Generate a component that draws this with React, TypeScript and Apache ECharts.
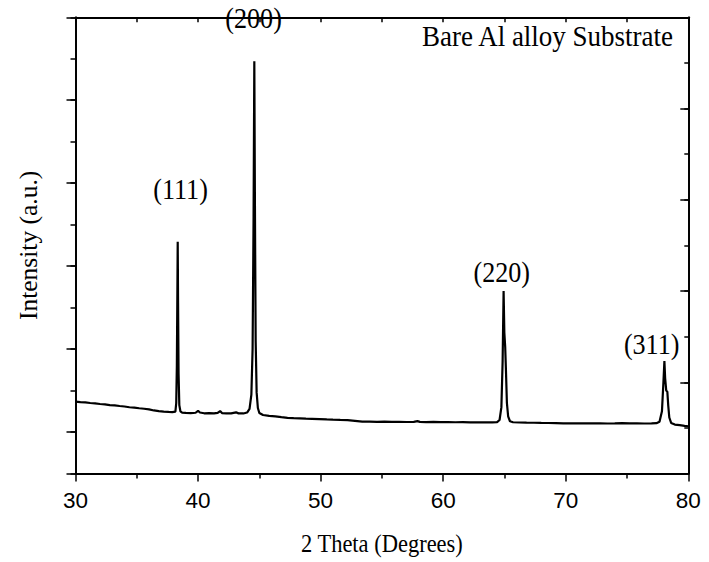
import React, { useEffect, useRef } from "react";
import * as echarts from "echarts";

// 2θ (degrees) vs intensity (arbitrary counts)
const xrdPattern: [number, number][] = [
  [30.0, 1731], [30.4, 1722], [30.8, 1714], [31.2, 1700], [31.6, 1690], [32.0, 1676],
  [32.4, 1668], [32.8, 1650], [33.2, 1642], [33.6, 1627], [34.0, 1615], [34.4, 1598],
  [34.8, 1590], [35.2, 1574], [35.6, 1562], [36.0, 1545], [36.4, 1520], [36.8, 1505],
  [37.2, 1494], [37.6, 1484], [37.9, 1478], [38.15, 1490], [38.22, 1700], [38.27, 2600],
  [38.31, 4300], [38.34, 5589], [38.37, 4100], [38.41, 2400], [38.47, 1650], [38.56, 1500],
  [38.7, 1470], [39.0, 1462], [39.4, 1458], [39.8, 1465], [40.0, 1512], [40.15, 1470],
  [40.5, 1452], [40.9, 1455], [41.3, 1448], [41.6, 1460], [41.8, 1505], [41.95, 1458],
  [42.3, 1452], [42.7, 1450], [43.1, 1475], [43.3, 1450], [43.7, 1448], [44.0, 1470],
  [44.2, 1560], [44.35, 1900], [44.45, 3000], [44.53, 6200], [44.59, 9938], [44.64, 6500],
  [44.7, 3200], [44.78, 1950], [44.88, 1580], [45.0, 1460], [45.3, 1410], [45.8, 1390],
  [46.3, 1378], [46.8, 1360], [47.3, 1343], [47.8, 1336], [48.3, 1330], [48.8, 1322],
  [49.3, 1318], [49.9, 1312], [50.5, 1304], [51.0, 1298], [51.6, 1292], [52.2, 1288],
  [52.8, 1270], [53.4, 1250], [54.0, 1252], [54.6, 1246], [55.2, 1250], [55.8, 1244],
  [56.4, 1248], [57.0, 1242], [57.6, 1246], [57.9, 1262], [58.1, 1245], [58.6, 1240],
  [59.2, 1243], [59.8, 1238], [60.4, 1240], [61.0, 1236], [61.6, 1238], [62.2, 1234],
  [62.8, 1236], [63.4, 1232], [64.0, 1234], [64.4, 1240], [64.6, 1290], [64.75, 1600],
  [64.85, 2700], [64.93, 4400], [64.99, 3400], [65.06, 3050], [65.12, 2500], [65.2, 1700],
  [65.3, 1380], [65.45, 1260], [65.7, 1236], [66.2, 1230], [66.8, 1226], [67.4, 1224],
  [68.0, 1220], [68.6, 1218], [69.2, 1214], [69.8, 1210], [70.4, 1212], [71.0, 1208],
  [71.6, 1211], [72.2, 1207], [72.8, 1210], [73.4, 1206], [74.0, 1209], [74.6, 1214],
  [75.2, 1208], [75.8, 1210], [76.4, 1206], [77.0, 1210], [77.4, 1214], [77.65, 1250],
  [77.85, 1500], [77.97, 2200], [78.05, 2712], [78.11, 2300], [78.2, 2000], [78.29, 1972],
  [78.36, 1650], [78.45, 1350], [78.6, 1220], [78.9, 1180], [79.3, 1165], [79.7, 1150],
  [80.0, 1140],
];

// peak annotations (label centre in data coordinates)
const peakNames = ["(111)", "(200)", "(220)", "(311)"];
const peakLabelX = [38.57, 44.53, 64.78, 77.01];
const peakLabelY = [6850, 10990, 4870, 3134];

// sample caption (right edge / centre in data coordinates)
const sampleTitle = "Bare Al alloy Substrate";
const sampleTitleX = 78.75;
const sampleTitleY = 10560;

const xTitle = "2 Theta (Degrees)";
const yTitle = "Intensity (a.u.)";

const BLACK = "#000";
const SERIF = "'Liberation Serif', 'Times New Roman', serif";
const SANS = "'Liberation Sans', Arial, sans-serif";

const lineStyle = { color: BLACK, width: 1.8 };
const tickStyle = { color: BLACK, width: 1.5 };

const GRID = { left: 75.5, top: 17.3, width: 612.8, height: 456.2 };

function frameAxis(extra: any) {
  return {
    type: "value",
    axisLine: { show: true, onZero: false, lineStyle },
    axisLabel: { show: false },
    splitLine: { show: false },
    minorSplitLine: { show: false },
    ...extra,
  };
}

function serifText(text: string, x: number, y: number, size: number, align: string) {
  return {
    type: "text",
    x,
    y,
    scaleX: 0.9,
    silent: true,
    style: {
      text,
      align,
      verticalAlign: "middle",
      fontFamily: SERIF,
      fontSize: size,
      fill: BLACK,
    },
  };
}

export default function App() {
  const ref = useRef<HTMLDivElement>(null);

  useEffect(() => {
    if (!ref.current) return;
    const chart = echarts.init(ref.current, null, { renderer: "svg" });
    const option: any = {
      animation: false,
      backgroundColor: "#fff",
      grid: GRID,
      xAxis: [
        frameAxis({
          position: "bottom",
          min: 30,
          max: 80,
          interval: 10,
          axisTick: { show: true, inside: false, length: 8, lineStyle: tickStyle },
          minorTick: { show: true, splitNumber: 2, length: 5, lineStyle: tickStyle },
          axisLabel: { show: true, margin: 15, fontFamily: SANS, fontSize: 22.5, color: BLACK },
        }),
        frameAxis({
          position: "top",
          min: 30,
          max: 80,
          interval: 5,
          axisTick: { show: true, inside: true, length: 5, lineStyle: tickStyle },
        }),
      ],
      yAxis: [
        frameAxis({
          position: "left",
          min: 0,
          max: 11000,
          interval: 1000,
          axisTick: { show: true, inside: false, length: 5, lineStyle: tickStyle },
          name: yTitle,
          nameLocation: "middle",
          nameRotate: 90,
          nameGap: 34,
          nameTextStyle: { fontFamily: SERIF, fontSize: 25.5, color: BLACK },
        }),
        frameAxis({
          position: "left",
          inverse: true,
          min: 0,
          max: 11000,
          interval: 2000,
          axisTick: { show: true, inside: false, length: 9, lineStyle: tickStyle },
        }),
        frameAxis({
          position: "right",
          min: 0,
          max: 10,
          interval: 1,
          axisTick: { show: true, inside: true, length: 4, lineStyle: tickStyle },
        }),
        frameAxis({
          position: "right",
          min: 0,
          max: 10,
          interval: 2,
          axisTick: { show: true, inside: true, length: 8, lineStyle: tickStyle },
        }),
      ],
      series: [
        {
          type: "line",
          xAxisIndex: 0,
          yAxisIndex: 0,
          data: xrdPattern,
          symbol: "none",
          showSymbol: false,
          lineStyle: { color: BLACK, width: 2.2 },
        },
      ],
    };
    chart.setOption(option);

    const toPx = (x: number, y: number) =>
      chart.convertToPixel({ xAxisIndex: 0, yAxisIndex: 0 }, [x, y]) as number[];

    const graphics: any[] = peakNames.map((n, i) => {
      const p = toPx(peakLabelX[i], peakLabelY[i]);
      return serifText(n, p[0], p[1], 29, "center");
    });
    const st = toPx(sampleTitleX, sampleTitleY);
    graphics.push(serifText(sampleTitle, st[0], st[1], 30, "right"));
    graphics.push(serifText(xTitle, GRID.left + GRID.width / 2, 544, 25, "center"));

    chart.setOption({ graphic: graphics });
    return () => chart.dispose();
  }, []);

  return (
    <div
      ref={ref}
      style={{ position: "fixed", left: 0, top: 0, width: 709, height: 562, background: "#fff" }}
    />
  );
}
